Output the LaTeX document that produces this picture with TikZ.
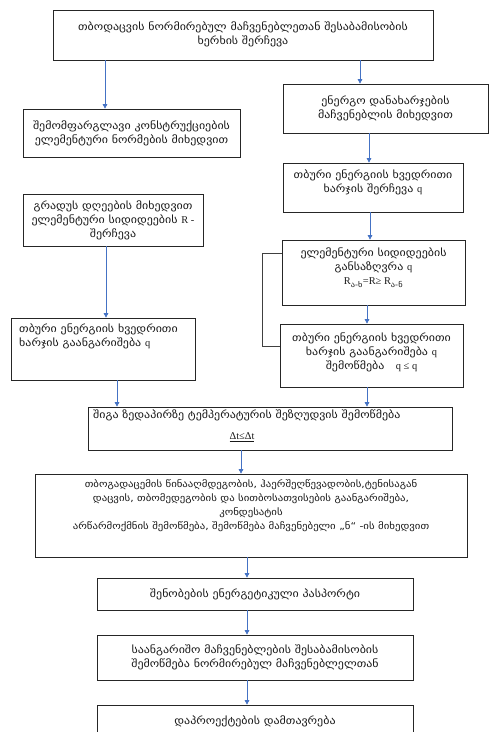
\documentclass[tikz,border=0pt]{standalone}
\usepackage{fontspec}
\setmainfont{DejaVu Sans}[FakeStretch=1.15]
\newfontfamily\lat{Liberation Serif}
\usetikzlibrary{arrows.meta}
\definecolor{arrblue}{RGB}{68,114,196}
\tikzset{
  box/.style={draw=black!85, line width=0.7pt, inner sep=0pt},
  txt/.style={inner sep=0pt, align=center, font=\fontsize{10.4}{14}\selectfont, text=black!90},
  arr/.style={draw=arrblue, line width=0.6pt, -{Triangle[width=4.5pt,length=4.5pt]}},
  brk/.style={draw=black!75, line width=0.7pt},
}
\begin{document}
\begin{tikzpicture}[x=1pt,y=-1pt]
\useasboundingbox (0,0) rectangle (490,732);
% boxes
\node[box, minimum width=380pt, minimum height=50pt] (top) at (243,35) {};
\node[box, minimum width=217pt, minimum height=48pt] (L1) at (131.5,133) {};
\node[box, minimum width=205pt, minimum height=49pt] (R1) at (385.5,108.5) {};
\node[box, minimum width=180pt, minimum height=49pt] (R2) at (373,187.5) {};
\node[box, minimum width=180pt, minimum height=52pt] (L2) at (113,220) {};
\node[box, minimum width=183pt, minimum height=65pt] (R3) at (373.5,272.5) {};
\node[box, minimum width=184pt, minimum height=62pt] (L3) at (103,349) {};
\node[box, minimum width=183pt, minimum height=63pt] (R4) at (371.5,355.5) {};
\node[box, minimum width=364pt, minimum height=43pt] (M1) at (270,428.5) {};
\node[box, minimum width=432pt, minimum height=83pt] (M2) at (251,515.5) {};
\node[box, minimum width=316pt, minimum height=32pt] (M3) at (255,594) {};
\node[box, minimum width=316pt, minimum height=45pt] (M4) at (255,657.5) {};
\node[box, minimum width=316pt, minimum height=40pt] (M5) at (255,725) {};
% texts
\node[txt] (topt) at (243,34) {თბოდაცვის  ნორმირებულ მაჩვენებლეთან  შესაბამისობის\\ხერხის შერჩევა};
\node[txt] (L1t) at (131.5,133) {შემომფარგლავი კონსტრუქციების\\ელემენტური ნორმების მიხედვით};
\node[txt] (R1t) at (385.5,108.5) {ენერგო დანახარჯების\\მაჩვენებლის  მიხედვით};
\node[txt] (R2t) at (373,182) {თბური ენერგიის ხვედრითი\\ხარჯის შერჩევა {\lat q}};
\node[txt] (L2t) at (113,220) {გრადუს დღეების მიხედვით\\ელემენტური სიდიდეების {\lat R -}\\შერჩევა};
\node[txt] (R3t) at (373.5,268) {ელემენტური სიდიდეების\\განსაზღვრა {\lat q}\\{\lat R}\textsubscript{ა-ხ}{\lat =R≥ R}\textsubscript{ა-ნ}};
\node[txt, align=left, anchor=north west] (L3t) at (19,324) {თბური ენერგიის ხვედრითი\\ხარჯის გაანგარიშება {\lat q}};
\node[txt] (R4t) at (371.5,352) {თბური ენერგიის ხვედრითი\\ხარჯის გაანგარიშება {\lat q}\\შემოწმება \ \ {\lat q ≤ q}};
\node[txt, anchor=west] (M1a) at (93,415) {შიგა ზედაპირზე ტემპერატურის შეზღუდვის შემოწმება};
\node[txt] (M1b) at (242,437) {\underline{\lat Δt≤Δt}};
\node[txt, font=\fontsize{9.4}{14}\selectfont] (M2t) at (251,506) {თბოგადაცემის წინააღმდეგობის, ჰაერშეღწევადობის,ტენისაგან\\დაცვის, თბომედეგობის და სითბოსათვისების გაანგარიშება,\\კონდესატის\\არწარმოქმნის შემოწმება, შემოწმება მაჩვენებელი „ნ“ -ის მიხედვით};
\node[txt] (M3t) at (255,594) {შენობების ენერგეტიკული პასპორტი};
\node[txt] (M4t) at (255,657.5) {საანგარიშო მაჩვენებლების შესაბამისობის\\შემოწმება ნორმირებულ მაჩვენებლელთან};
\node[txt] (M5t) at (255,721) {დაპროექტების დამთავრება};
% x-positions of connectors
\coordinate (xa) at (105,0);
\coordinate (xb) at (360,0);
\coordinate (xc) at (369,0);
\coordinate (xd) at (370,0);
\coordinate (xe) at (367,0);
\coordinate (xf) at (106,0);
\coordinate (xg) at (117,0);
\coordinate (xh) at (241,0);
\coordinate (xi) at (247,0);
\coordinate (xj) at (262,0);
% connectors
\draw[arr] (top.south -| xa) -- (L1.north -| xa);
\draw[arr] (top.south -| xb) -- (R1.north -| xb);
\draw[arr] (R1.south -| xc) -- (R2.north -| xc);
\draw[arr] (R2.south -| xd) -- (R3.north -| xd);
\draw[arr] (R3.south -| xe) -- (R4.north -| xe);
\draw[arr] (L2.south -| xf) -- (L3.north -| xf);
\draw[arr] (L3.south -| xg) -- (M1.north -| xg);
\draw[arr] (R4.south -| xe) -- (M1.north -| xe);
\draw[arr] (M1.south -| xh) -- (M2.north -| xh);
\draw[arr] (M2.south -| xi) -- (M3.north -| xi);
\draw[arr] (M3.south -| xi) -- (M4.north -| xi);
\draw[arr] (M4.south -| xi) -- (M5.north -| xi);
\coordinate (b1) at ([yshift=-14pt]R3.north west);
\coordinate (b2) at ([yshift=-23pt]R4.north west);
\draw[brk] (b1) -- (b1 -| xj) -- (b2 -| xj) -- (b2);
\end{tikzpicture}
\end{document}
